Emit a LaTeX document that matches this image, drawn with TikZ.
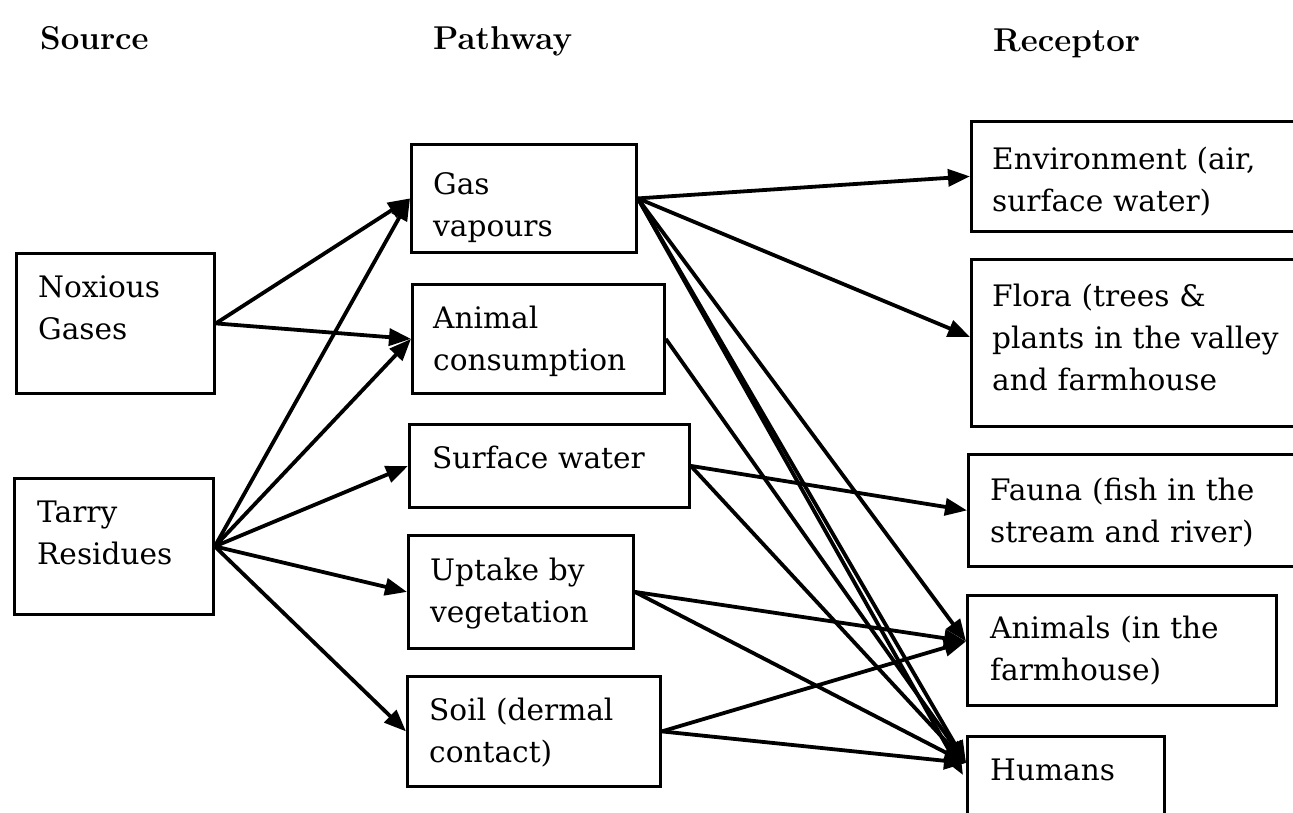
\documentclass[tikz,border=0pt]{standalone}
\usepackage{fontspec}
\setmainfont{DejaVu Serif}
\newfontfamily\headfont{Latin Modern Roman}
\usetikzlibrary{arrows.meta}
\begin{document}
\begin{tikzpicture}[x=1pt,y=-1pt,
  box/.style={draw, line width=2.8pt, rectangle, inner sep=0pt, anchor=north west},
  txt/.style={anchor=base west, inner sep=0pt, align=left, text width=330pt,
    font=\fontsize{29.6}{42}\selectfont},
  head/.style={anchor=base west, inner sep=0pt, font=\headfont\bfseries\fontsize{33}{36}\selectfont},
  conn/.style={line width=3.8pt, -{Triangle[length=22pt,width=17pt]}}]
\clip (0,0) rectangle (1293,813);
\fill[white] (0,0) rectangle (1293,813);

% column headings
\node[head] (hsrc) at (40,50) {Source};
\node[head] (hpath) at (433,50) {Pathway};
\node[head] (hrec) at (993,52) {Receptor};

% sources
\node[box, minimum width=198pt, minimum height=140pt] (nox) at (15,252) {};
\node[box, minimum width=199pt, minimum height=136pt] (tar) at (13,477) {};
% pathways
\node[box, minimum width=225pt, minimum height=108pt] (gas) at (410,143) {};
\node[box, minimum width=252pt, minimum height=109pt] (ani) at (411,283) {};
\node[box, minimum width=280pt, minimum height=83pt] (sur) at (408,423) {};
\node[box, minimum width=225pt, minimum height=113pt] (upt) at (407,534) {};
\node[box, minimum width=253pt, minimum height=110pt] (soi) at (406,675) {};
% receptors
\node[box, minimum width=360pt, minimum height=110pt] (env) at (970,120) {};
\node[box, minimum width=360pt, minimum height=167pt] (flo) at (970,258) {};
\node[box, minimum width=360pt, minimum height=112pt] (fau) at (967,453) {};
\node[box, minimum width=309pt, minimum height=110pt] (anm) at (966,594) {};
\node[box, minimum width=197pt, minimum height=120pt] (hum) at (966,735) {};

% box texts
\node[txt] (noxT) at (38,297) {Noxious\\Gases};
\node[txt] (tarT) at (37,522) {Tarry\\Residues};
\node[txt] (gasT) at (433,195) {Gas\\vapours};
\node[txt] (aniT) at (433,328) {Animal\\consumption};
\node[txt] (surT) at (432,468) {Surface water};
\node[txt] (uptT) at (430,580) {Uptake by\\vegetation};
\node[txt] (soiT) at (429,720) {Soil (dermal\\contact)};
\node[txt] (envT) at (992,170) {Environment (air,\\surface water)};
\node[txt] (floT) at (992,306) {Flora (trees \&\\plants in the valley\\and farmhouse};
\node[txt] (fauT) at (990,500) {Fauna (fish in the\\stream and river)};
\node[txt] (anmT) at (990,638) {Animals (in the\\farmhouse)};
\node[txt] (humT) at (990,780) {Humans};

% source to pathway
\draw[conn] (nox.east) -- (gas.west);
\draw[conn] (nox.east) -- (ani.west);
\draw[conn] (tar.east) -- (gas.west);
\draw[conn] (tar.east) -- (ani.west);
\draw[conn] (tar.east) -- (sur.west);
\draw[conn] (tar.east) -- (upt.west);
\draw[conn] (tar.east) -- (soi.west);

% pathway to receptor
\draw[conn] (gas.east) -- (env.west);
\draw[conn] (gas.east) -- ([yshift=6pt]flo.west);
\draw[conn] (gas.east) -- ([yshift=9pt]anm.west);
\draw[conn] (gas.east) -- ([yshift=-28pt]hum.north west);
\draw[conn] (gas.east) -- ([yshift=-40pt,xshift=-3pt]hum.north west);
\draw[conn] (ani.east) -- ([yshift=-28pt]hum.north west);
\draw[conn] (sur.east) -- (fau.west);
\draw[conn] (sur.east) -- ([yshift=-28pt]hum.north west);
\draw[conn] (upt.east) -- ([yshift=9pt]anm.west);
\draw[conn] (upt.east) -- ([yshift=-28pt]hum.north west);
\draw[conn] (soi.east) -- ([yshift=9pt]anm.west);
\draw[conn] (soi.east) -- ([yshift=-28pt]hum.north west);
\end{tikzpicture}
\end{document}
